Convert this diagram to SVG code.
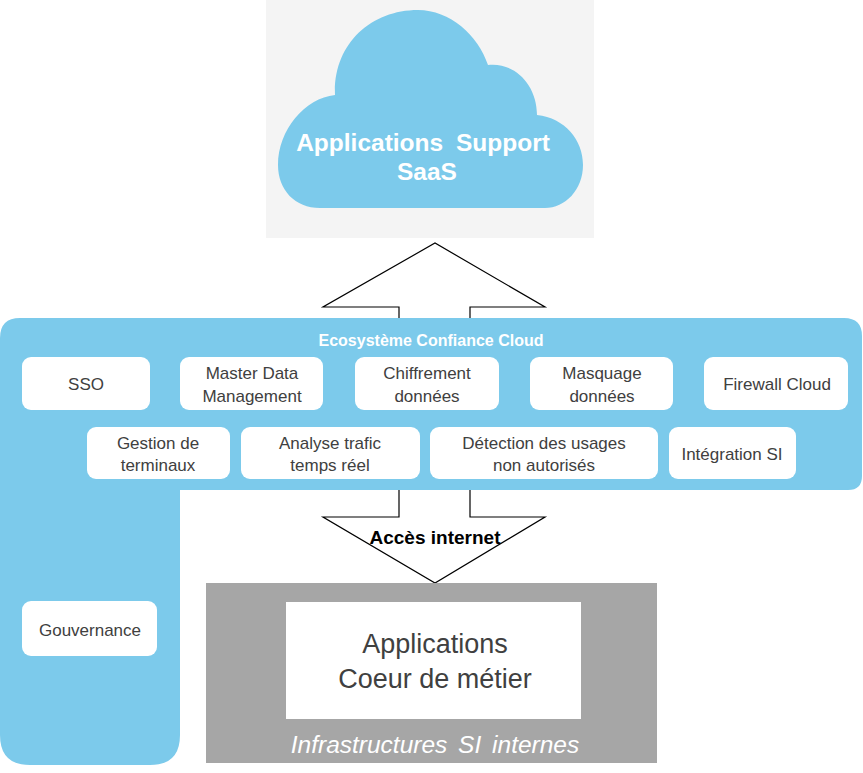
<svg xmlns="http://www.w3.org/2000/svg" width="863" height="773" viewBox="0 0 863 773">
<style>
.box{fill:#fff}
.lbl{font-family:"Liberation Sans",Arial,sans-serif;font-size:17px;fill:#404040;text-anchor:middle}
.arrow{fill:#fff;stroke:#000;stroke-width:1.2}
</style>
<rect x="0" y="0" width="863" height="773" fill="#fff"/>
<g id="saas">
<rect x="266" y="0" width="328" height="238" fill="#f4f4f4"/>
<path d="M320 208 C295 208 278 190 278 165 C278 130 305 98 335 95 C333 45 370 10 418 10 C450 10 478 35 488 65 C515 62 537 85 537 115 C565 118 583 140 583 165 C583 190 565 208 545 208 Z" fill="#7ccaeb"/>
<text x="423" y="151" font-family="Liberation Sans,Arial,sans-serif" font-weight="bold" font-size="24.5" fill="#fff" text-anchor="middle" word-spacing="6">Applications Support</text>
<text x="427" y="180" font-family="Liberation Sans,Arial,sans-serif" font-weight="bold" font-size="24.5" fill="#fff" text-anchor="middle">SaaS</text>
</g>
<g id="connectors">
<path class="arrow" d="M399 318 L399 307 L323 307 L435 243 L545 307 L470 307 L470 318"/>
<path class="arrow" d="M399 490 L399 517 L323 517 L435 583 L545 517 L470 517 L470 490"/>
</g>
<g id="ecosysteme">
<path d="M20 318 L844 318 Q862 318 862 336 L862 476 Q862 490 848 490 L180 490 L180 735 Q180 765 150 765 L30 765 Q0 765 0 735 L0 338 Q0 318 20 318 Z" fill="#7ccaeb"/>
<text x="431" y="346" font-family="Liberation Sans,Arial,sans-serif" font-weight="bold" font-size="16" fill="#fff" text-anchor="middle">Ecosystème Confiance Cloud</text>
</g>
<g id="sso"><rect class="box" x="22" y="357" width="128" height="53" rx="9"/><text class="lbl" x="86" y="390">SSO</text></g>
<g id="mdm"><rect class="box" x="180" y="357" width="143" height="53" rx="9"/><text class="lbl" x="252" y="379">Master Data</text><text class="lbl" x="252" y="402">Management</text></g>
<g id="chiffrement"><rect class="box" x="355" y="357" width="144" height="53" rx="9"/><text class="lbl" x="427" y="379">Chiffrement</text><text class="lbl" x="427" y="402">données</text></g>
<g id="masquage"><rect class="box" x="530" y="357" width="143" height="53" rx="9"/><text class="lbl" x="602" y="379">Masquage</text><text class="lbl" x="602" y="402">données</text></g>
<g id="firewall"><rect class="box" x="704" y="357" width="144" height="53" rx="9"/><text class="lbl" x="777" y="390">Firewall Cloud</text></g>
<g id="gestion"><rect class="box" x="87" y="427" width="143" height="52" rx="9"/><text class="lbl" x="158" y="449">Gestion de</text><text class="lbl" x="158" y="471">terminaux</text></g>
<g id="analyse"><rect class="box" x="241" y="427" width="179" height="52" rx="9"/><text class="lbl" x="330" y="449">Analyse trafic</text><text class="lbl" x="330" y="471">temps réel</text></g>
<g id="detection"><rect class="box" x="430" y="427" width="228" height="52" rx="9"/><text class="lbl" x="544" y="449">Détection des usages</text><text class="lbl" x="544" y="471">non autorisés</text></g>
<g id="integration"><rect class="box" x="669" y="427" width="127" height="52" rx="9"/><text class="lbl" x="732" y="460">Intégration SI</text></g>
<g id="gouvernance"><rect class="box" x="22" y="601" width="135" height="55" rx="9"/><text class="lbl" x="90" y="636">Gouvernance</text></g>
<g id="acces-label"><text x="435" y="544" font-family="Liberation Sans,Arial,sans-serif" font-weight="bold" font-size="19" fill="#000" text-anchor="middle">Accès internet</text></g>
<g id="infra">
<rect x="206" y="583" width="451" height="180" fill="#a6a6a6"/>
<rect x="286" y="602" width="295" height="117" fill="#fff"/>
<text x="435" y="653" font-family="Liberation Sans,Arial,sans-serif" font-size="27" fill="#404040" text-anchor="middle">Applications</text>
<text x="435" y="688" font-family="Liberation Sans,Arial,sans-serif" font-size="27" fill="#404040" text-anchor="middle">Coeur de métier</text>
<text x="435" y="753" font-family="Liberation Sans,Arial,sans-serif" font-style="italic" font-size="24.5" fill="#fff" text-anchor="middle" word-spacing="4">Infrastructures SI internes</text>
</g>
</svg>
